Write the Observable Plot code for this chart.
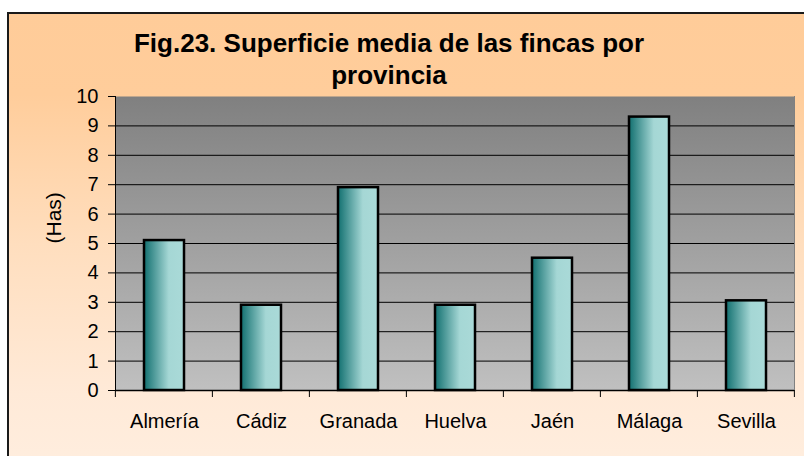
<!DOCTYPE html>
<html>
<head>
<meta charset="utf-8">
<script src="https://cdn.jsdelivr.net/npm/d3@7"></script>
<script src="https://cdn.jsdelivr.net/npm/@observablehq/plot@0.6"></script>
<style>
  html, body { margin: 0; padding: 0; background: #ffffff; width: 804px; height: 456px; overflow: hidden; }
  #bg { position: absolute; left: 7px; top: 12px; width: 830px; height: 480px; border: 2px solid #1a1a1a;
        background: linear-gradient(to bottom, #FFCC99 0px, #FFCD9B 80px, #FFDEBE 230px, #FFEAD8 380px, #FFEEDF 460px); }
  #title { position: absolute; left: 0; top: 27px; width: 778px; text-align: center;
           font: bold 26px "Liberation Sans", Arial, sans-serif; line-height: 32px; color: #000; }
  #chart { position: absolute; left: 0; top: 0; }
</style>
</head>
<body>
<div id="bg"></div>
<div id="chart"></div>
<div id="title">Fig.23. Superficie media de las fincas por<br>provincia</div>
<script>
const provincias = ["Almería", "Cádiz", "Granada", "Huelva", "Jaén", "Málaga", "Sevilla"];
const superficie = [5.1, 2.9, 6.9, 2.9, 4.5, 9.3, 3.05];
const yTicks = [0, 1, 2, 3, 4, 5, 6, 7, 8, 9, 10];
const yLabel = "(Has)";

const data = provincias.map((p, i) => ({provincia: p, superficie: superficie[i]}));
const padInner = 0.59;

const defs = () => {
  const d = d3.create("svg:defs");
  const pg = d.append("linearGradient").attr("id", "plotGrad")
    .attr("x1", 0).attr("y1", 0).attr("x2", 0).attr("y2", 1);
  pg.append("stop").attr("offset", "0%").attr("stop-color", "#808080");
  pg.append("stop").attr("offset", "100%").attr("stop-color", "#C0C0C0");
  const bg = d.append("linearGradient").attr("id", "barGrad")
    .attr("x1", 0).attr("y1", 0).attr("x2", 1).attr("y2", 0);
  bg.append("stop").attr("offset", "0%").attr("stop-color", "#127070");
  bg.append("stop").attr("offset", "62%").attr("stop-color", "#A5D7D5");
  bg.append("stop").attr("offset", "100%").attr("stop-color", "#AADAD8");
  return d.node();
};

const boundaryTicks = (index, scales, values, dims) => {
  const x = scales.x, y = scales.y;
  const step = x.step ? x.step() : (x(provincias[1]) - x(provincias[0]));
  const y0 = y(0);
  const g = d3.create("svg:g").attr("stroke", "black").attr("stroke-width", 1);
  const bounds = provincias.map(p => x(p) - step * padInner / 2);
  bounds.push(x(provincias[provincias.length - 1]) + step - step * padInner / 2);
  for (const b of bounds) {
    g.append("line").attr("x1", b).attr("x2", b).attr("y1", y0).attr("y2", y0 + 7);
  }
  return g.node();
};

const chart = Plot.plot({
  width: 804,
  height: 456,
  marginLeft: 115,
  marginRight: 10,
  marginTop: 96,
  marginBottom: 66,
  style: {background: "transparent", fontFamily: "'Liberation Sans', Arial, sans-serif", fontSize: "20px", color: "black", overflow: "visible"},
  x: {domain: provincias, paddingInner: padInner, paddingOuter: padInner / 2, label: null},
  y: {domain: [0, 10], label: null},
  marks: [
    defs,
    Plot.frame({fill: "url(#plotGrad)"}),
    Plot.gridY(yTicks.filter(v => v > 0 && v < 10), {stroke: "black", strokeOpacity: 1, strokeWidth: 1}),
    Plot.barY(data, {x: "provincia", y: "superficie", fill: "url(#barGrad)", stroke: "black", strokeWidth: 2.5}),
    Plot.ruleY([0], {stroke: "black", strokeWidth: 1.5}),
    Plot.frame({anchor: "left", stroke: "black"}),
    Plot.frame({anchor: "right", stroke: "#808080"}),
    Plot.axisY({ticks: yTicks, tickSize: 7, tickPadding: 10, fontSize: 20, label: null, tickFormat: d => String(d)}),
    Plot.axisX({tickSize: 0, tickPadding: 23, fontSize: 20, label: null}),
    boundaryTicks,
    Plot.text([yLabel], {text: d => d, frameAnchor: "left", dx: -61, rotate: -90, fontSize: 21, fill: "black"})
  ]
});
document.getElementById("chart").appendChild(chart);
</script>
</body>
</html>
